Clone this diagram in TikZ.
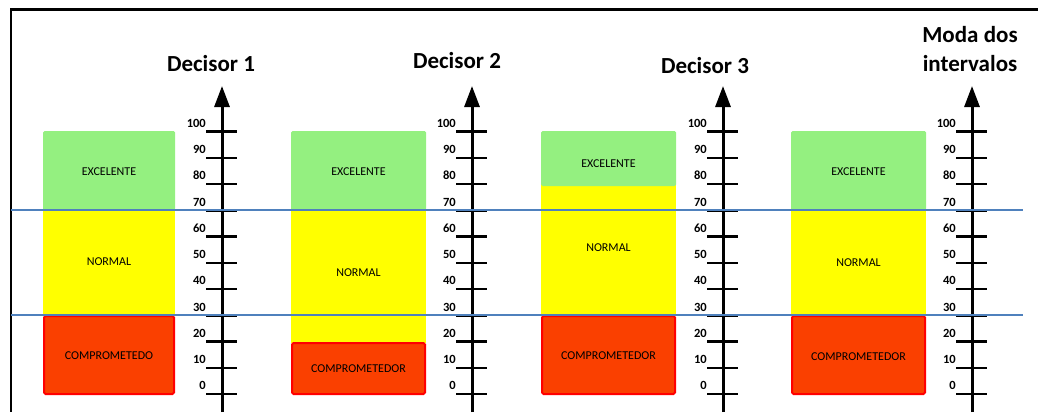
\documentclass[tikz,border=0pt]{standalone}
\usepackage{fontspec}
\setmainfont{Carlito}
\usetikzlibrary{arrows.meta}
\definecolor{exc}{RGB}{148,240,128}
\definecolor{nor}{RGB}{255,255,0}
\definecolor{cmpfill}{RGB}{250,64,0}
\definecolor{cmpline}{RGB}{255,0,0}
\definecolor{limit}{RGB}{79,129,189}
\begin{document}
\begin{tikzpicture}[x=1pt,y=-1pt,
  heading/.style={font=\bfseries\fontsize{23}{30}\selectfont, align=center, inner sep=0, anchor=base},
  bandtext/.style={font=\fontsize{12}{14}\selectfont, inner sep=0},
  ticklabel/.style={font=\bfseries\fontsize{12.5}{14}\selectfont, inner sep=0, anchor=east},
  axisline/.style={line width=3pt, -{Triangle[length=21pt,width=15pt]}},
  tickmark/.style={line width=2.5pt},
  excbox/.style={fill=exc, rounded corners=1.5pt},
  norbox/.style={fill=nor},
  cmpbox/.style={fill=cmpfill, draw=cmpline, line width=2pt, rounded corners=1.5pt},
  limitline/.style={draw=limit, line width=1.5pt},
  frameline/.style={line width=2.5pt}]
\useasboundingbox (0,0) rectangle (1038,412);

% outer frame (top and left edges)
\draw[frameline] (1038,9.7) -- (11,9.7) -- (11,412);

% one panel per decision maker: colour bands, scale axis, ticks and labels
\foreach \i/\ax/\bl/\br/\gb/\yb/\ey/\ny/\cy/\ct in {
  1/222/43/175/210/316/172/262/356/COMPROMETEDO,
  2/472/291/426/210/343/172/273/369/COMPROMETEDOR,
  3/723/541/676/186/316/164/248/356/COMPROMETEDOR,
  4/972/791/926/210/316/172/263/357/COMPROMETEDOR}{
  \fill[norbox] (\bl,\gb-2) rectangle (\br,\yb);
  \fill[excbox] (\bl,131) rectangle (\br,\gb);
  \draw[cmpbox] (\bl+1,\yb) rectangle (\br-1,394);
  \node[bandtext] (e\i) at ({(\bl+\br)/2},\ey) {EXCELENTE};
  \node[bandtext] (n\i) at ({(\bl+\br)/2},\ny) {NORMAL};
  \node[bandtext] (c\i) at ({(\bl+\br)/2},\cy) {\ct};
  \coordinate (base\i) at (\ax,412);
  \coordinate (top\i) at (\ax,86);
  \draw[axisline] (base\i) -- (top\i);
  \foreach \k in {0,...,10}{
    \pgfmathsetmacro{\ty}{131.7+26.25*\k}
    \pgfmathtruncatemacro{\v}{100-10*\k}
    \draw[tickmark] (\ax-16,\ty) -- (\ax+15,\ty);
    \node[ticklabel] (t\i-\k) at (\ax-16,\ty-8.5) {\v};
  }
}

% boundaries between the bands
\draw[limitline] (11,210) -- (1023,210);
\draw[limitline] (11,315) -- (1023,315);

% headings
\node[heading] (h1) at (211,71) {Decisor 1};
\node[heading] (h2) at (457,69) {Decisor 2};
\node[heading] (h3) at (705,74) {Decisor 3};
\node[heading] (h4a) at (970,43) {Moda dos};
\node[heading] (h4b) at (970,71) {intervalos};
\end{tikzpicture}
\end{document}
